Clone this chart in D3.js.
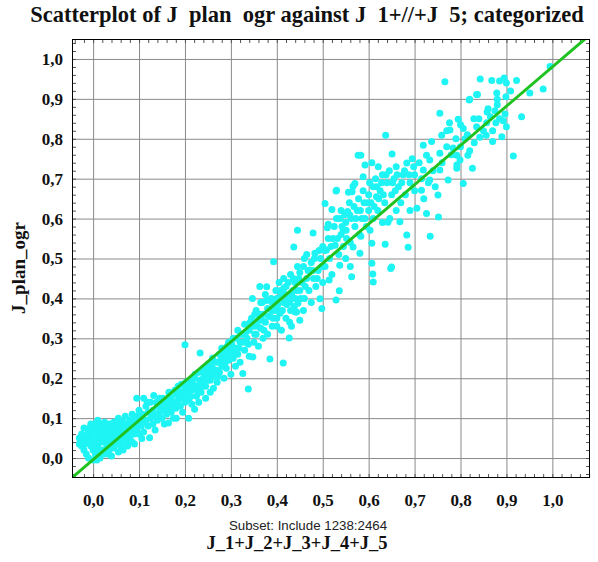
<!DOCTYPE html>
<html>
<head>
<meta charset="utf-8">
<script src="https://cdn.jsdelivr.net/npm/d3@7"></script>
<style>
  html, body { margin: 0; padding: 0; background: #ffffff; }
  svg { display: block; }
</style>
</head>
<body>
<svg id="chart" width="598" height="562"></svg>
<script>
// ---------------- DATA ----------------
const titleText = "Scatterplot of J_plan_ogr against J_1+//+J_5; categorized";
const xLabel = "J_1+J_2+J_3+J_4+J_5";
const yLabel = "J_plan_ogr";
const subsetText = "Subset: Include 1238:2464";
const xTickValues = [0.0, 0.1, 0.2, 0.3, 0.4, 0.5, 0.6, 0.7, 0.8, 0.9, 1.0];
const yTickValues = [0.0, 0.1, 0.2, 0.3, 0.4, 0.5, 0.6, 0.7, 0.8, 0.9, 1.0];
const xDomain = [-0.046, 1.082];
const yDomain = [-0.05, 1.05];
// fitted line y = a + b x
const fitIntercept = -0.004;
const fitSlope = 0.984;

const pointsLow = [
[-0.03,0.05],[-0.03,0.035],[-0.025,0.06],[-0.025,0.03],[-0.02,0.045],[-0.02,0.075],[-0.02,0.02],[-0.015,0.055],[-0.015,0.01],[-0.01,0.04],[-0.01,0.065],[-0.01,0.0],[-0.005,0.03],[-0.005,0.085],[-0.005,0.05],[0.0,0.02],[0.0,0.06],[0.0,0.075],[0.0,-0.005],[0.004,0.086],[0.005,0.04],[0.005,0.01],[0.01,0.03],[0.01,0.065],[0.01,0.095],[0.015,0.05],[0.015,0.0],[0.015,0.08],[0.02,0.02],[0.02,0.04],[0.02,0.07],[0.025,0.09],[0.025,0.055],[0.025,0.01],[0.03,0.03],[0.03,0.075],[0.03,0.045],[0.035,0.06],[0.035,0.02],[0.035,0.085],[0.04,0.04],[0.04,0.07],[0.04,0.005],[0.045,0.05],[0.045,0.09],[0.045,0.025],[0.05,0.065],[0.05,0.035],[0.05,0.08],[0.055,0.045],[0.055,0.015],[0.055,0.1],[0.06,0.06],[0.06,0.03],[0.06,0.075],[0.065,0.05],[0.065,0.09],[0.065,0.02],[0.07,0.04],[0.07,0.07],[0.07,0.105],[0.075,0.06],[0.075,0.03],[0.075,0.085],[0.08,0.05],[0.08,0.095],[0.08,0.07],[0.085,0.04],[0.085,0.08],[0.085,0.11],[0.09,0.06],[0.09,0.09],[0.09,0.035],[0.095,0.075],[0.095,0.15],[0.095,0.105],[0.1,0.06],[0.1,0.09],[0.1,0.12],
[0.0,0.04],[0.005,0.07],[0.01,0.05],[0.012,0.015],[0.018,0.06],[0.022,0.085],[0.028,0.065],[0.032,0.01],[0.038,0.05],[0.042,0.08],[0.048,0.06],[0.052,0.05],[0.058,0.085],[0.062,0.045],[0.068,0.08],[0.072,0.055],[0.078,0.045],[0.082,0.085],[0.088,0.065],[0.092,0.1],[0.098,0.085],[-0.028,0.045],[-0.018,0.035],[-0.008,0.075],[0.008,-0.005]
];

const pointsLowMid = [
[0.105,0.08],[0.106,0.049],[0.108,0.11],[0.11,0.15],[0.11,0.065],[0.115,0.095],[0.115,0.13],[0.12,0.08],[0.123,0.051],[0.12,0.115],[0.125,0.1],[0.125,0.14],[0.13,0.085],[0.132,0.157],[0.13,0.12],[0.135,0.105],[0.135,0.07],[0.14,0.13],[0.14,0.095],[0.145,0.115],[0.145,0.15],[0.15,0.1],[0.15,0.135],[0.155,0.12],[0.155,0.085],[0.16,0.145],[0.16,0.11],[0.164,0.088],[0.165,0.13],[0.165,0.165],[0.17,0.115],[0.17,0.15],[0.175,0.135],[0.175,0.1],[0.18,0.16],[0.181,0.1],[0.18,0.125],[0.185,0.145],[0.185,0.18],[0.19,0.13],[0.19,0.165],[0.195,0.15],[0.195,0.115],[0.2,0.175],[0.2,0.14],[0.2,0.284],
[0.205,0.16],[0.208,0.1],[0.209,0.147],[0.21,0.19],[0.215,0.17],[0.215,0.135],[0.221,0.122],[0.22,0.2],[0.225,0.155],[0.225,0.18],[0.23,0.215],[0.233,0.263],[0.23,0.14],[0.235,0.19],[0.235,0.165],[0.24,0.2],[0.24,0.225],[0.245,0.15],[0.245,0.18],[0.25,0.21],[0.25,0.235],[0.255,0.165],[0.255,0.195],[0.26,0.225],[0.26,0.25],[0.262,0.175],[0.265,0.205],[0.27,0.24],[0.27,0.19],[0.275,0.26],[0.275,0.215],[0.28,0.23],[0.28,0.275],[0.285,0.2],[0.285,0.25],[0.29,0.265],[0.29,0.225],[0.295,0.29],[0.295,0.245],[0.3,0.27],[0.3,0.21],
[0.102,0.105],[0.112,0.09],[0.118,0.14],[0.128,0.11],[0.138,0.14],[0.142,0.11],[0.148,0.125],[0.152,0.15],[0.158,0.135],[0.162,0.125],[0.168,0.14],[0.172,0.13],[0.178,0.17],[0.182,0.14],[0.188,0.155],[0.192,0.185],[0.198,0.16],[0.202,0.19],[0.208,0.175],[0.212,0.155],[0.218,0.185],[0.222,0.21],[0.228,0.17],[0.232,0.195],[0.238,0.18],[0.242,0.21],[0.248,0.195],[0.252,0.22],[0.258,0.21],[0.262,0.24],[0.268,0.22],[0.272,0.205],[0.278,0.245],[0.282,0.26],[0.288,0.24],[0.292,0.28],[0.298,0.255]
];

const pointsMid = [
[0.305,0.25],[0.305,0.3],[0.31,0.23],[0.31,0.275],[0.315,0.32],[0.315,0.26],[0.32,0.29],[0.32,0.24],[0.325,0.31],[0.326,0.212],[0.33,0.27],[0.33,0.335],[0.335,0.3],[0.338,0.173],[0.34,0.255],[0.34,0.32],[0.345,0.35],[0.347,0.4],[0.348,0.253],[0.35,0.29],[0.35,0.33],[0.355,0.31],[0.355,0.37],[0.36,0.28],[0.36,0.345],[0.363,0.43],[0.365,0.325],[0.365,0.39],[0.37,0.3],[0.372,0.32],[0.37,0.36],[0.375,0.34],[0.375,0.41],[0.378,0.429],[0.38,0.31],[0.38,0.375],[0.385,0.248],[0.385,0.355],[0.39,0.39],[0.39,0.33],[0.393,0.492],[0.395,0.37],[0.398,0.42],[0.4,0.33],[0.4,0.35],[0.4,0.4],
[0.302,0.285],[0.308,0.265],[0.312,0.3],[0.318,0.275],[0.322,0.31],[0.328,0.29],[0.332,0.315],[0.338,0.285],[0.342,0.34],[0.352,0.31],[0.358,0.33],[0.362,0.36],[0.368,0.345],[0.382,0.355],[0.388,0.37],[0.392,0.35],[0.402,0.385],[0.412,0.37],[0.418,0.41],[0.422,0.385],[0.432,0.41],[0.438,0.38],
[0.405,0.37],[0.405,0.44],[0.407,0.363],[0.41,0.32],[0.41,0.41],[0.414,0.238],[0.415,0.39],[0.415,0.45],[0.42,0.35],[0.42,0.43],[0.425,0.4],[0.427,0.301],[0.428,0.34],[0.43,0.37],[0.43,0.46],[0.432,0.33],[0.435,0.42],[0.437,0.529],[0.44,0.366],[0.44,0.4],[0.44,0.44],[0.443,0.366],[0.445,0.571],[0.445,0.48],[0.446,0.388],[0.45,0.345],[0.45,0.465],[0.45,0.42],[0.455,0.44],[0.458,0.37],[0.46,0.4],[0.46,0.5],[0.465,0.51],[0.465,0.45],[0.47,0.42],[0.472,0.471],[0.475,0.49],[0.475,0.39],[0.479,0.564],[0.48,0.45],[0.483,0.513],[0.485,0.43],[0.49,0.47],[0.494,0.399],[0.495,0.5],[0.498,0.375],[0.5,0.44],[0.5,0.53],
[0.352,0.36],[0.368,0.39],[0.378,0.395],[0.388,0.4],[0.398,0.38],[0.408,0.42],[0.415,0.425],[0.425,0.44],[0.428,0.39],[0.436,0.45],[0.442,0.42],[0.448,0.45],[0.452,0.4],[0.458,0.48],[0.462,0.43],[0.468,0.47],[0.478,0.47],[0.482,0.5],[0.488,0.45],[0.492,0.52],[0.498,0.48]
];

const pointsMidHigh = [
[0.505,0.48],[0.505,0.638],[0.508,0.521],[0.51,0.577],[0.512,0.586],[0.514,0.446],[0.515,0.5],[0.52,0.623],[0.52,0.46],[0.522,0.55],[0.527,0.533],[0.529,0.669],[0.529,0.396],[0.53,0.671],[0.53,0.6],[0.535,0.51],[0.536,0.419],[0.537,0.483],[0.54,0.56],[0.54,0.62],[0.545,0.571],[0.545,0.53],[0.55,0.59],[0.55,0.5],[0.551,0.571],[0.554,0.618],[0.556,0.666],[0.56,0.48],[0.559,0.609],[0.56,0.54],[0.563,0.454],[0.564,0.667],[0.566,0.529],[0.566,0.681],[0.57,0.688],[0.57,0.58],[0.575,0.62],[0.577,0.759],[0.58,0.56],[0.581,0.513],[0.583,0.556],[0.583,0.759],[0.585,0.6],[0.588,0.705],[0.59,0.64],[0.592,0.734],[0.595,0.58],[0.6,0.62],[0.6,0.66],[0.603,0.571],
[0.605,0.64],[0.607,0.74],[0.607,0.538],[0.607,0.488],[0.61,0.441],[0.609,0.461],[0.61,0.6],[0.61,0.68],[0.615,0.7],[0.617,0.655],[0.62,0.62],[0.621,0.73],[0.625,0.67],[0.63,0.59],[0.63,0.71],[0.635,0.64],[0.636,0.536],[0.637,0.809],[0.64,0.69],[0.642,0.591],[0.645,0.72],[0.646,0.6],[0.648,0.475],[0.65,0.479],[0.65,0.66],[0.651,0.762],[0.655,0.7],[0.66,0.62],[0.66,0.73],[0.665,0.68],[0.668,0.592],[0.67,0.64],[0.675,0.71],[0.68,0.66],[0.683,0.739],[0.683,0.559],[0.686,0.528],[0.69,0.69],[0.69,0.62],[0.695,0.75],[0.7,0.67],[0.7,0.71],
[0.505,0.52],[0.512,0.55],[0.518,0.53],[0.525,0.58],[0.532,0.55],[0.538,0.6],[0.542,0.58],[0.548,0.61],[0.552,0.55],[0.558,0.64],[0.562,0.6],[0.568,0.63],[0.572,0.6],[0.578,0.65],[0.582,0.62],[0.588,0.67],[0.592,0.6],[0.598,0.64],[0.602,0.69],[0.612,0.63],[0.618,0.68],[0.622,0.65],[0.628,0.69],[0.632,0.66],[0.638,0.71],[0.652,0.69],[0.658,0.67],[0.662,0.71],[0.672,0.69],[0.678,0.72],[0.688,0.71],[0.698,0.73]
];

const pointsHigh = [
[0.705,0.626],[0.71,0.74],[0.715,0.671],[0.715,0.7],[0.719,0.784],[0.719,0.722],[0.72,0.65],[0.726,0.759],[0.726,0.613],[0.73,0.69],[0.733,0.697],[0.733,0.747],[0.734,0.556],[0.737,0.793],[0.74,0.72],[0.745,0.68],[0.751,0.659],[0.752,0.604],[0.755,0.764],[0.755,0.722],[0.755,0.864],[0.759,0.809],[0.76,0.74],[0.766,0.943],[0.77,0.78],[0.773,0.697],[0.776,0.84],[0.777,0.822],[0.78,0.76],[0.784,0.777],[0.79,0.8],[0.792,0.759],[0.792,0.734],[0.792,0.726],[0.795,0.849],[0.799,0.747],[0.8,0.78],
[0.806,0.688],[0.806,0.826],[0.81,0.8],[0.816,0.759],[0.819,0.897],[0.82,0.77],[0.826,0.726],[0.829,0.85],[0.83,0.79],[0.835,0.911],[0.837,0.911],[0.84,0.85],[0.842,0.804],[0.843,0.95],[0.85,0.82],[0.856,0.809],[0.858,0.867],[0.86,0.875],[0.868,0.946],[0.87,0.793],[0.877,0.84],[0.88,0.899],[0.88,0.885],[0.885,0.85],[0.89,0.805],[0.895,0.952],[0.897,0.862],[0.899,0.905],[0.9,0.94],[0.909,0.92],[0.915,0.757],[0.922,0.946],[0.933,0.855],[0.951,0.915],[0.98,0.925],[0.995,0.981],
[0.82,0.899],[0.857,0.84],[0.865,0.855],[0.875,0.87],[0.893,0.845],[0.879,0.915],[0.885,0.945],[0.77,0.82],[0.8,0.835],[0.815,0.81],[0.835,0.83],[0.87,0.82],[0.9,0.83]
];

// ---------------- CHART ----------------
const svg = d3.select("#chart");
const W = 598, H = 562;
const plot = { left: 72, right: 590, top: 39, bottom: 478 };

const x = d3.scaleLinear().domain(xDomain).range([plot.left, plot.right]);
const y = d3.scaleLinear().domain(yDomain).range([plot.bottom, plot.top]);
const fmt = d => d3.format(".1f")(d).replace(".", ",");

svg.append("rect").attr("width", W).attr("height", H).attr("fill", "#ffffff");

// clip
svg.append("defs").append("clipPath").attr("id", "plotClip")
  .append("rect").attr("x", plot.left).attr("y", plot.top)
  .attr("width", plot.right - plot.left).attr("height", plot.bottom - plot.top);

// gridlines
const grid = svg.append("g").attr("class", "grid");
grid.append("g")
  .attr("transform", `translate(0,${plot.bottom})`)
  .call(d3.axisBottom(x).tickValues(xTickValues).tickSize(-(plot.bottom - plot.top)).tickFormat(""))
  .call(g => g.select(".domain").remove())
  .call(g => g.selectAll("line").attr("stroke", "#8a8a8a").attr("stroke-width", 1));
grid.append("g")
  .attr("transform", `translate(${plot.left},0)`)
  .call(d3.axisLeft(y).tickValues(yTickValues).tickSize(-(plot.right - plot.left)).tickFormat(""))
  .call(g => g.select(".domain").remove())
  .call(g => g.selectAll("line").attr("stroke", "#8a8a8a").attr("stroke-width", 1));

// minor ticks (inside the frame, all four sides)
const minorX = d3.range(-0.04, 1.0801, 0.02).map(v => +v.toFixed(2));
const minorY = d3.range(-0.04, 1.0401, 0.02).map(v => +v.toFixed(2));
function minorAxis(axis, transform) {
  svg.append("g").attr("transform", transform)
    .call(axis.tickFormat(""))
    .call(g => g.select(".domain").remove())
    .call(g => g.selectAll("line").attr("stroke", "#555").attr("stroke-width", 1));
}
minorAxis(d3.axisBottom(x).tickValues(minorX).tickSize(-4), `translate(0,${plot.bottom})`);
minorAxis(d3.axisTop(x).tickValues(minorX).tickSize(-4), `translate(0,${plot.top})`);
minorAxis(d3.axisLeft(y).tickValues(minorY).tickSize(-4), `translate(${plot.left},0)`);
minorAxis(d3.axisRight(y).tickValues(minorY).tickSize(-4), `translate(${plot.right},0)`);

// points
const allPoints = [].concat(pointsLow, pointsLowMid, pointsMid, pointsMidHigh, pointsHigh);
svg.append("g").attr("clip-path", "url(#plotClip)")
  .selectAll("circle").data(allPoints).join("circle")
  .attr("cx", d => x(d[0])).attr("cy", d => y(d[1]))
  .attr("r", 3.5).attr("fill", "#1ff4f4");

// fit line
const fitX = [xDomain[0], xDomain[1]];
svg.append("g").attr("clip-path", "url(#plotClip)")
  .append("line")
  .attr("x1", x(fitX[0])).attr("y1", y(fitIntercept + fitSlope * fitX[0]))
  .attr("x2", x(fitX[1])).attr("y2", y(fitIntercept + fitSlope * fitX[1]))
  .attr("stroke", "#1fc21f").attr("stroke-width", 3);

// frame
svg.append("rect")
  .attr("x", plot.left + 0.5).attr("y", plot.top + 0.5)
  .attr("width", plot.right - plot.left - 1).attr("height", plot.bottom - plot.top - 1)
  .attr("fill", "none").attr("stroke", "#000").attr("stroke-width", 1);

// tick labels
const serif = "'Liberation Serif', 'Times New Roman', serif";
const xAx = svg.append("g").attr("transform", `translate(0,${plot.bottom})`)
  .call(d3.axisBottom(x).tickValues(xTickValues).tickSize(0).tickPadding(16).tickFormat(fmt));
xAx.select(".domain").remove();
xAx.selectAll("text").attr("font-family", serif).attr("font-weight", "bold")
  .attr("font-size", 17).attr("fill", "#111");

const yAx = svg.append("g").attr("transform", `translate(${plot.left},0)`)
  .call(d3.axisLeft(y).tickValues(yTickValues).tickSize(0).tickPadding(9).tickFormat(fmt));
yAx.select(".domain").remove();
yAx.selectAll("text").attr("font-family", serif).attr("font-weight", "bold")
  .attr("font-size", 17).attr("fill", "#111");

// title (underscores rendered invisibly, as in the source)
const title = svg.append("text").attr("x", 307).attr("y", 22)
  .attr("text-anchor", "middle").attr("font-family", serif)
  .attr("font-weight", "bold").attr("font-size", 22.5).attr("fill", "#111");
titleText.split(/(_)/).forEach(part => {
  title.append("tspan").text(part).attr("fill", part === "_" ? "#ffffff" : "#111");
});

// axis titles
svg.append("text").attr("x", 308).attr("y", 530).attr("text-anchor", "middle")
  .attr("font-family", "'Liberation Sans', Arial, sans-serif").attr("font-size", 13.3)
  .attr("fill", "#222").text(subsetText);
svg.append("text").attr("x", 297).attr("y", 549).attr("text-anchor", "middle")
  .attr("font-family", serif).attr("font-weight", "bold").attr("font-size", 18.5)
  .attr("fill", "#111").text(xLabel);
svg.append("text").attr("transform", "translate(25,268) rotate(-90)")
  .attr("text-anchor", "middle").attr("font-family", serif).attr("font-weight", "bold")
  .attr("font-size", 19).attr("fill", "#111").text(yLabel);
</script>
</body>
</html>
